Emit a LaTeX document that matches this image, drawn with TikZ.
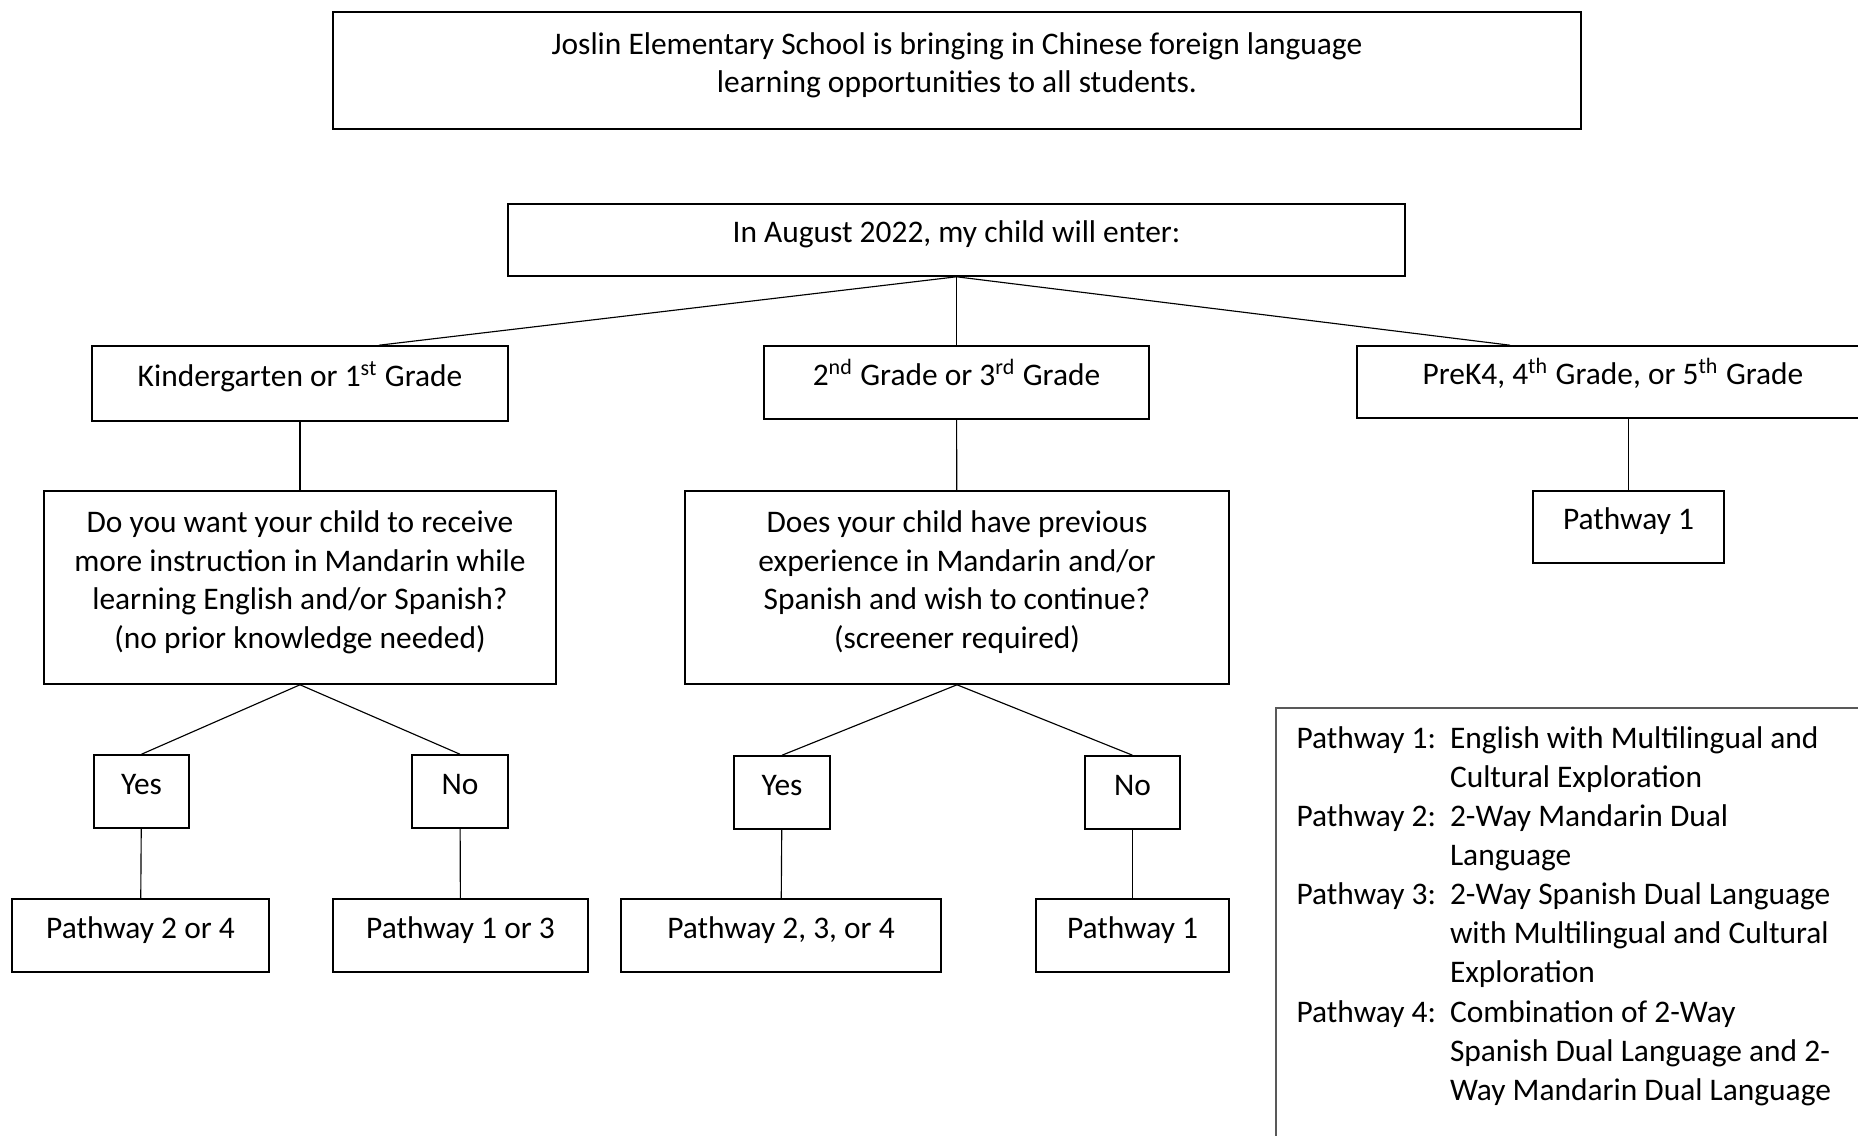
\documentclass[tikz,border=0pt]{standalone}
\usepackage{fontspec}
\setmainfont{Carlito}
\usetikzlibrary{positioning}

\begin{document}
\begin{tikzpicture}[
        box/.style={draw, line width=0.55pt, inner sep=0pt, align=center,
            font=\fontsize{11}{13.55}\selectfont, text height=9pt, text depth=7pt},
        tall/.style={text height=#1, text depth=5.8pt},
        key/.style={inner sep=0pt, font=\fontsize{11}{13.7}\selectfont},
        every edge/.append style={line width=0.4pt},
        yscale=-1,
        x=0.35pt,
        y=0.35pt
    ]
    \clip (0,0) rectangle (1858,1136);

    % top row
    \node[box, text height=22.15pt, text depth=6.5pt, minimum width=436.8pt, minimum height=40.95pt] (intro) at (957,70.5)
        {Joslin Elementary School is bringing in Chinese foreign language\\learning opportunities to all students.};
    \node[box, minimum width=313.95pt, minimum height=25.2pt] (aug) at (956.5,240)
        {In August 2022, my child will enter:};

    % grades
    \node[box, minimum width=145.6pt, minimum height=26.25pt] (kg) at (300,383.5)
        {Kindergarten or 1\textsuperscript{st} Grade};
    \node[box, minimum width=134.75pt, minimum height=25.55pt] (g23) at (956.5,382.5)
        {2\textsuperscript{nd} Grade or 3\textsuperscript{rd} Grade};
    \node[box, minimum width=179.2pt, minimum height=25.2pt] (pk) at (1613,382)
        {PreK4, 4\textsuperscript{th} Grade, or 5\textsuperscript{th} Grade};

    % questions
    \node[box, tall=48.6pt, minimum width=179.2pt, minimum height=67.55pt] (q1) at (300,587.5)
        {Do you want your child to receive\\more instruction in Mandarin while\\learning English and/or Spanish?\\(no prior knowledge needed)};
    \node[box, tall=48.6pt, minimum width=190.4pt, minimum height=67.55pt] (q2) at (957,587.5)
        {Does your child have previous\\experience in Mandarin and/or\\Spanish and wish to continue?\\(screener required)};
    \node[box, minimum width=66.85pt, minimum height=25.2pt] (pw1) at (1628.5,527) {Pathway 1};

    % answers
    \node[box, minimum width=33.25pt, minimum height=25.55pt] (yes1) at (141.5,791.5) {Yes};
    \node[box, minimum width=33.6pt, minimum height=25.55pt] (no1) at (460,791.5) {No};
    \node[box, minimum width=33.6pt, minimum height=25.55pt] (yes2) at (782,792.5) {Yes};
    \node[box, minimum width=33.25pt, minimum height=25.55pt] (no2) at (1132.5,792.5) {No};

    % results
    \node[box, minimum width=89.95pt, minimum height=25.55pt] (r24) at (140.5,935.5) {Pathway 2 or 4};
    \node[box, minimum width=89.25pt, minimum height=25.55pt] (r13) at (460.5,935.5) {Pathway 1 or 3};
    \node[box, minimum width=112pt, minimum height=25.55pt] (r234) at (781,935.5) {Pathway 2, 3, or 4};
    \node[box, minimum width=67.55pt, minimum height=25.55pt] (r1) at (1132.5,935.5) {Pathway 1};

    % key
    \draw[line width=0.55pt, gray!70!black] (1276,708) rectangle (1900,1200);
    \node[key, anchor=base west] (legend) at (1296,748) {%
        \begin{tabular}[t]{@{}p{53.7pt}@{}l@{}}
            Pathway 1: & English with Multilingual and\\
                       & Cultural Exploration\\
            Pathway 2: & 2-Way Mandarin Dual\\
                       & Language\\
            Pathway 3: & 2-Way Spanish Dual Language\\
                       & with Multilingual and Cultural\\
                       & Exploration\\
            Pathway 4: & Combination of 2-Way\\
                       & Spanish Dual Language and 2-\\
                       & Way Mandarin Dual Language
        \end{tabular}};

    \draw (aug.south) edge ([xshift=27.65pt]kg.north)
    (aug.south) edge (g23.north)
    (aug.south) edge ([xshift=-36pt]pk.north)
    (kg) edge (q1)
    (g23) edge (q2)
    (pk.south -| pw1.north) edge (pw1.north)
    (q1.south) edge (yes1.north)
    (q1.south) edge (no1.north)
    (q2.south) edge (yes2.north)
    (q2.south) edge (no2.north)
    (yes1) edge (r24)
    (no1) edge (r13)
    (yes2) edge (r234)
    (no2) edge (r1)
    ;
\end{tikzpicture}
\end{document}
